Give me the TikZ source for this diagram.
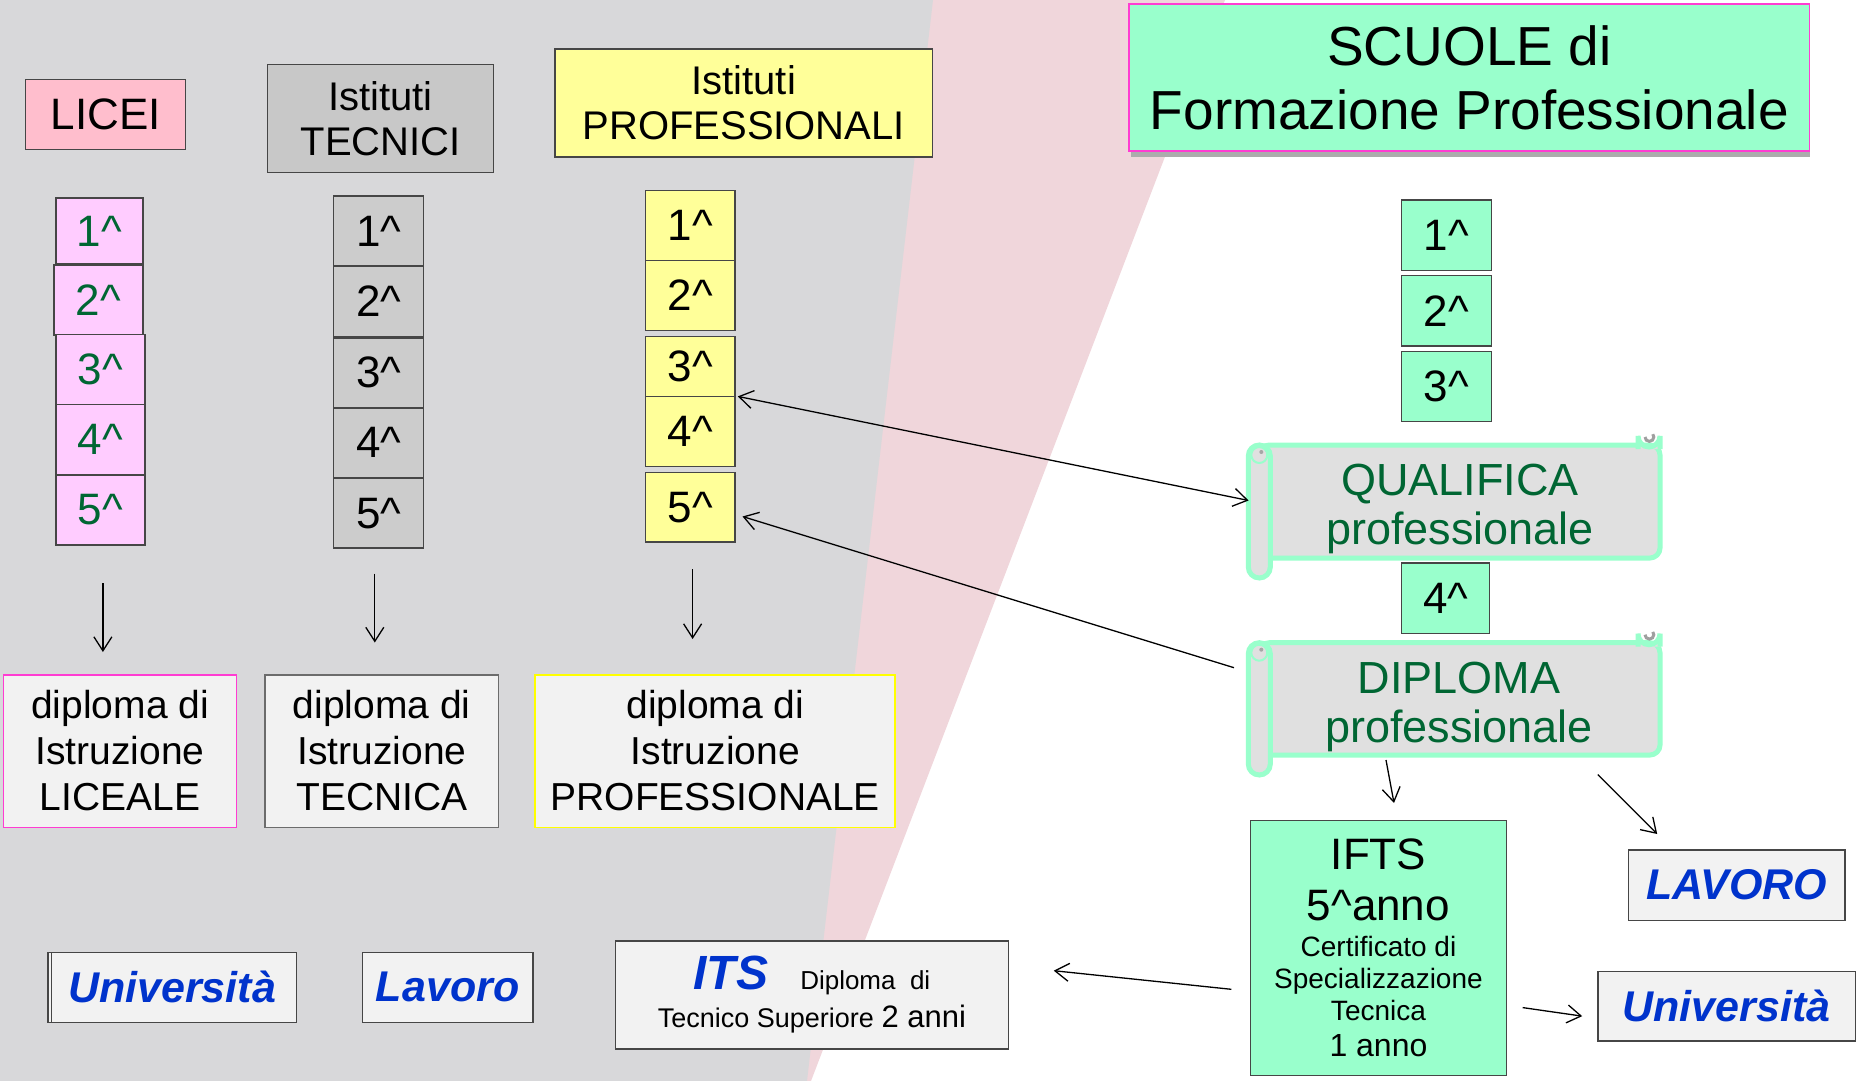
\documentclass[tikz,border=0pt]{standalone}
\usepackage{fontspec}
\setmainfont{Liberation Sans}
\usetikzlibrary{arrows.meta}
\definecolor{bggray}{RGB}{216,216,218}
\definecolor{bgpink}{RGB}{240,214,219}
\definecolor{dgreen}{RGB}{0,102,51}
\definecolor{mint}{RGB}{153,255,204}
\definecolor{pinkhd}{RGB}{255,190,205}
\definecolor{lilac}{RGB}{255,204,255}
\definecolor{ltyel}{RGB}{255,255,153}
\definecolor{gridgray}{RGB}{204,204,204}
\definecolor{hdgray}{RGB}{200,200,200}
\definecolor{offwhite}{RGB}{242,242,242}
\definecolor{scrollgray}{RGB}{224,224,224}
\definecolor{linkblue}{RGB}{0,51,204}
\definecolor{magline}{RGB}{255,60,210}
\definecolor{frameg}{RGB}{70,70,70}
\definecolor{yelline}{RGB}{255,255,0}
\newcommand\circm{\textasciicircum}
\newcommand\myscroll[4]{%
  \pgfmathsetmacro\qqL{#1}\pgfmathsetmacro\qqT{#2}\pgfmathsetmacro\qqR{#3}\pgfmathsetmacro\qqB{#4}%
  \pgfmathsetmacro\qqTb{\qqT+20}\pgfmathsetmacro\qqBb{\qqB-20}%
  \pgfmathsetmacro\qqLr{\qqL+11}\pgfmathsetmacro\qqLd{\qqL+22}%
  \pgfmathsetmacro\qqRd{\qqR-22}\pgfmathsetmacro\qqRr{\qqR-11}%
  \draw[scroll, rounded corners=5pt] (\qqLr,\qqTb) rectangle (\qqR,\qqBb);
  \draw[scroll] (\qqRd,\qqTb+4) -- (\qqRd,\qqT+11) arc[start angle=180, end angle=360, radius=5.5pt] -- (\qqR,\qqTb+4);
  \draw[gray!75, line width=1.5pt] (\qqRr-4,\qqT+12) arc[start angle=180, end angle=400, radius=2.2pt];
  \draw[scroll, rounded corners=5.5pt] (\qqL,\qqTb) rectangle (\qqLd,\qqB);
  \draw[mint, line width=1pt] (\qqLr,\qqTb+10) circle[radius=4pt];
  \fill[gray!70] (\qqLr+2,\qqTb+7) circle[radius=1pt];
}
\begin{document}
\begin{tikzpicture}[x=0.5pt,y=-0.5pt,
  sz/.style 2 args={minimum width=#1*0.5pt, minimum height=#2*0.5pt, inner sep=0pt, outer sep=0pt},
  bx/.style={draw=frameg, line width=0.7pt},
  grade/.style={bx, sz={89}{70}, font=\fontsize{22}{24}\selectfont},
  hdr/.style={bx, align=center, font=\fontsize{20}{22.5}\selectfont},
  dipbox/.style={fill=offwhite, line width=0.9pt, sz={233}{152.8}, align=center, font=\fontsize{19.5}{23}\selectfont},
  outbox/.style={bx, fill=offwhite, text=linkblue, font=\fontsize{21.5}{24}\selectfont\bfseries\itshape},
  scroll/.style={draw=mint, line width=2.5pt, fill=scrollgray},
  scrolltext/.style={sz={400}{113}, align=center, text=dgreen, font=\fontsize{22.5}{24.5}\selectfont},
  arr/.style={-{Straight Barb[length=7pt,width=9pt]}, line width=0.65pt},
  arrtwo/.style={{Straight Barb[length=7pt,width=9pt]}-{Straight Barb[length=7pt,width=9pt]}, line width=0.65pt}
]
\useasboundingbox (0,0) rectangle (1865,1081);
% background
\fill[white] (0,0) rectangle (1865,1081);
\fill[bgpink] (925,0) -- (1225,0) -- (811,1081) -- (800,1081) -- cycle;
\fill[bggray] (0,0) -- (933,0) -- (807,1081) -- (0,1081) -- cycle;

% headers
\node[bx, fill=pinkhd, sz={159.8}{70}, font=\fontsize{22}{24}\selectfont] (licei) at (105.6,114.3) {LICEI};
\node[hdr, fill=hdgray, sz={226}{108.2}] (tec) at (380.6,118.4) {Istituti\\TECNICI};
\node[hdr, fill=ltyel, sz={377.8}{108.2}] (prof) at (743.7,103) {Istituti\\PROFESSIONALI};
\fill[gray!65] (1131,150) rectangle (1810,157);
\node[draw=magline, line width=0.7pt, fill=mint, sz={680.5}{147.1}, align=center, font=\fontsize{27.5}{32}\selectfont] (scuole) at (1469.35,77.5) {SCUOLE di\\Formazione Professionale};

% Licei grades
\node[grade, fill=lilac, text=dgreen, sz={87}{66}] (l1) at (99.5,231) {1\circm};
\node[grade, fill=lilac, text=dgreen] (l2) at (98.3,300) {2\circm};
\node[grade, fill=lilac, text=dgreen] (l3) at (100.4,369.5) {3\circm};
\node[grade, fill=lilac, text=dgreen] (l4) at (100.4,439.5) {4\circm};
\node[grade, fill=lilac, text=dgreen] (l5) at (100.4,510) {5\circm};
% Tecnici grades
\node[grade, fill=gridgray, sz={90}{70}] (t1) at (378.7,231) {1\circm};
\node[grade, fill=gridgray, sz={90}{69.5}] (t2) at (378.7,301.5) {2\circm};
\node[grade, fill=gridgray, sz={90}{69.5}] (t3) at (378.7,372.7) {3\circm};
\node[grade, fill=gridgray, sz={90}{69.5}] (t4) at (378.7,442.7) {4\circm};
\node[grade, fill=gridgray, sz={90}{69.5}] (t5) at (378.7,513.3) {5\circm};
% Professionali grades
\node[grade, fill=ltyel, sz={89.4}{70}] (p1) at (690.1,225.7) {1\circm};
\node[grade, fill=ltyel, sz={89.4}{69.7}] (p2) at (690.1,295.5) {2\circm};
\node[grade, fill=ltyel, sz={89.4}{60}] (p3) at (690.1,366.4) {3\circm};
\node[grade, fill=ltyel, sz={89.4}{70}] (p4) at (690.1,431.4) {4\circm};
\node[grade, fill=ltyel, sz={89.4}{69.5}] (p5) at (690.1,507.2) {5\circm};
% Formazione grades
\node[grade, fill=mint, sz={90}{70.4}] (f1) at (1446.5,235.2) {1\circm};
\node[grade, fill=mint, sz={90}{70.4}] (f2) at (1446.5,310.8) {2\circm};
\node[grade, fill=mint, sz={90}{70}] (f3) at (1446.5,386.4) {3\circm};
\node[grade, fill=mint, sz={88.3}{70.2}] (f4) at (1445.6,598.1) {4\circm};

% scrolls
\myscroll{1248.3}{425}{1660}{578}
\myscroll{1248.3}{622.7}{1660}{775}
\node[scrolltext] (qual) at (1460,509) {QUALIFICA\\professionale};
\node[scrolltext] (dipl) at (1459,706.5) {DIPLOMA\\professionale};

% diploma boxes
\node[dipbox, draw=magline] (dl) at (120.05,751) {diploma di\\Istruzione\\LICEALE};
\node[dipbox, draw=gray!85!black, sz={233.3}{152.8}] (dt) at (381.85,751) {diploma di\\Istruzione\\TECNICA};
\node[dipbox, draw=yelline, sz={360.1}{152.8}] (dp) at (715.25,751) {diploma di\\Istruzione\\PROFESSIONALE};

% bottom boxes
\node[outbox, sz={248.6}{70}] (uni) at (172.1,987.4) {Università};
\draw[frameg, line width=0.6pt] (51.4,952.4) -- (51.4,1022.4);
\node[outbox, sz={170.3}{70}] (lav) at (447.65,987.4) {Lavoro};
\node[bx, fill=offwhite, sz={393.1}{108}, align=center, font=\fontsize{13.5}{19}\selectfont] (its) at (811.95,995)
  {{\fontsize{24}{24}\selectfont\bfseries\itshape\color{linkblue}ITS}\hspace{16pt}{\fontsize{13}{15}\selectfont Diploma\ \ di}\\{\fontsize{13.5}{15}\selectfont Tecnico Superiore {\fontsize{15.5}{15}\selectfont 2 anni}}};
\node[bx, fill=mint, sz={256.3}{255.3}, align=center, font=\fontsize{14}{16}\selectfont] (ifts) at (1378.45,947.85)
  {{\fontsize{22}{24}\selectfont IFTS}\\[9.5pt]{\fontsize{22}{24}\selectfont 5\circm anno}\\[2pt]Certificato di\\Specializzazione\\Tecnica\\[2pt]{\fontsize{16}{18}\selectfont 1 anno}};
\node[outbox, sz={216.4}{70.4}] (lavR) at (1736.6,885.1) {LAVORO};
\node[outbox, sz={257.4}{69.7}] (uniR) at (1726.5,1006.15) {Università};

% connectors
\coordinate (a1s) at (102.9,583); \coordinate (a1e) at (102.9,652);
\coordinate (a2s) at (374.8,573.5); \coordinate (a2e) at (374.8,642.5);
\coordinate (a3s) at (692.6,569.3); \coordinate (a3e) at (692.6,639);
\draw[arr] (a1s) -- (a1e);
\draw[arr] (a2s) -- (a2e);
\draw[arr] (a3s) -- (a3e);
\draw[arrtwo] ([xshift=1.5pt]p4.north east) -- ([xshift=-5.7pt,yshift=4.25pt]qual.west);
\coordinate (dls) at (1234,667.7);
\draw[arr] (dls) -- ([shift={(3.85pt,-4.65pt)}]p5.east);
\coordinate (dd1) at (1386,760); \coordinate (dd2) at (1394,803);
\draw[arr] (dd1) -- (dd2);
\coordinate (dv1) at (1597.8,774.6); \coordinate (dv2) at (1657.2,834);
\draw[arr] (dv1) -- (dv2);
\coordinate (iu1) at (1522.7,1007.6);
\draw[arr] (iu1) -- ([xshift=-7.8pt,yshift=-5pt]uniR.west);
\coordinate (ii1) at (1231.3,989.3);
\draw[arr] (ii1) -- ([xshift=22.65pt,yshift=12.15pt]its.east);
\end{tikzpicture}
\end{document}
